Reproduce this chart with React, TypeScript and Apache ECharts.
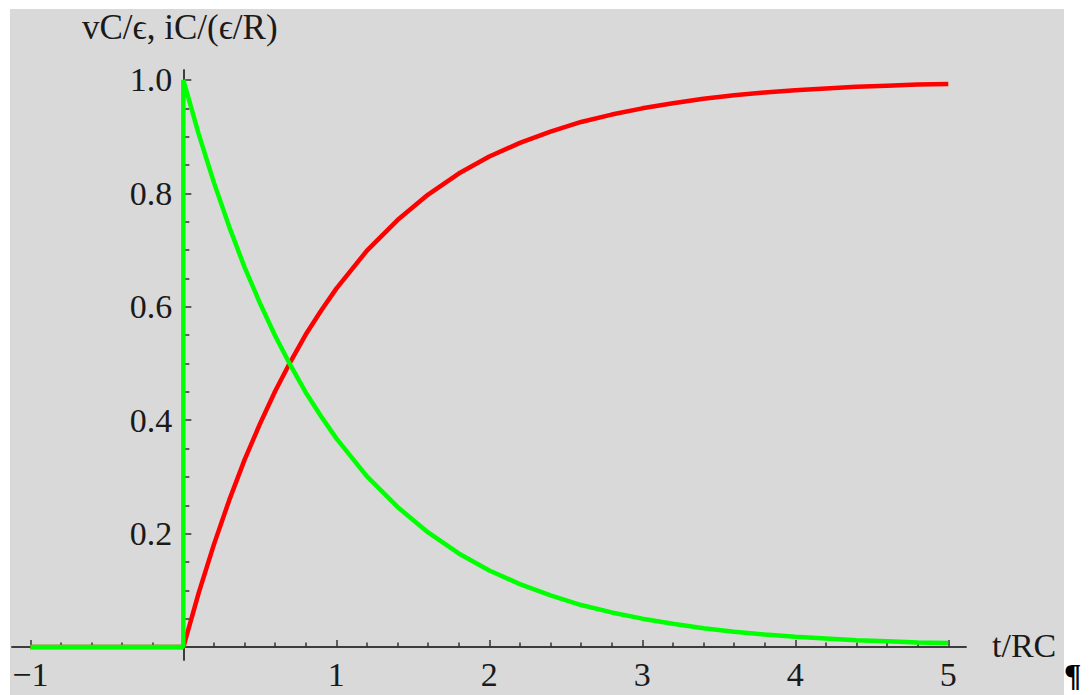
import React, { useEffect, useRef } from "react";
import * as echarts from "echarts";

// t/RC sample points
const tValues = [
  -1, 0, 0.1, 0.2, 0.3, 0.4, 0.5, 0.6, 0.7, 0.8, 0.9, 1.0,
  1.2, 1.4, 1.6, 1.8, 2.0, 2.2, 2.4, 2.6, 2.8, 3.0, 3.2, 3.4, 3.6, 3.8,
  4.0, 4.2, 4.4, 4.6, 4.8, 5.0,
];
// vC/ϵ (red)
const vcValues = [
  0, 0, 0.095, 0.181, 0.259, 0.33, 0.393, 0.451, 0.503, 0.551, 0.593, 0.632,
  0.699, 0.753, 0.798, 0.835, 0.865, 0.889, 0.909, 0.926, 0.939, 0.95, 0.959,
  0.967, 0.973, 0.978, 0.982, 0.985, 0.988, 0.99, 0.992, 0.993,
];
// iC/(ϵ/R) (green) — jumps from 0 to 1 at t = 0
const icPre = [
  [-1, 0],
  [0, 0],
];
const icValues = [
  1.0, 0.905, 0.819, 0.741, 0.67, 0.607, 0.549, 0.497, 0.449, 0.407, 0.368,
  0.301, 0.247, 0.202, 0.165, 0.135, 0.111, 0.091, 0.074, 0.061, 0.05, 0.041,
  0.033, 0.027, 0.022, 0.018, 0.015, 0.012, 0.01, 0.008, 0.007,
];

const xMajorTicks = [-1, 1, 2, 3, 4, 5];
const xMinorTicks = [
  -0.8, -0.6, -0.4, -0.2, 0.2, 0.4, 0.6, 0.8, 1.2, 1.4, 1.6, 1.8, 2.2, 2.4,
  2.6, 2.8, 3.2, 3.4, 3.6, 3.8, 4.2, 4.4, 4.6, 4.8,
];
const yMajorTicks = [0.2, 0.4, 0.6, 0.8, 1.0];
const yMinorTicks = [
  0.05, 0.1, 0.15, 0.25, 0.3, 0.35, 0.45, 0.5, 0.55, 0.65, 0.7, 0.75, 0.85,
  0.9, 0.95,
];

const yTitle = "vC/ϵ, iC/(ϵ/R)";
const xTitle = "t/RC";

const FONT = "'Liberation Serif', 'Times New Roman', serif";
const AXIS_COLOR = "#333";

export default function App() {
  const ref = useRef<HTMLDivElement>(null);

  useEffect(() => {
    if (!ref.current) return;
    const chart = echarts.init(ref.current, undefined, { renderer: "svg" });

    const vcData = tValues.map((t, i) => [t, vcValues[i]]);
    const icData = [
      ...icPre,
      ...tValues.slice(1).map((t, i) => [t, icValues[i]]),
    ];

    const xMin = -1.12;
    const xMax = 5.116;
    const yMin = -0.0229;
    const yMax = 1.0176;
    const gLeft = 12;
    const gTop = 70;
    const gW = 954;
    const gH = 590;
    // shift the axes inward so they cross at the origin
    const yAxisOffset = -((0 - xMin) / (xMax - xMin)) * gW;
    const xAxisOffset = -((0 - yMin) / (yMax - yMin)) * gH;

    const baseX = {
      type: "value",
      min: xMin,
      max: xMax,
      position: "bottom",
      offset: xAxisOffset,
      splitLine: { show: false },
      axisLine: { onZero: false, lineStyle: { color: AXIS_COLOR, width: 1.5 } },
    };
    const baseY = {
      type: "value",
      min: yMin,
      max: yMax,
      position: "left",
      offset: yAxisOffset,
      splitLine: { show: false },
      axisLine: { onZero: false, lineStyle: { color: AXIS_COLOR, width: 1.5 } },
    };

    chart.setOption({
      animation: false,
      textStyle: { fontFamily: FONT },
      grid: {
        left: gLeft,
        top: gTop,
        width: gW,
        height: gH,
        containLabel: false,
        outerBoundsMode: "none",
      },
      xAxis: [
        {
          ...baseX,
          axisTick: {
            show: true,
            inside: true,
            length: 7,
            customValues: xMajorTicks,
            lineStyle: { color: AXIS_COLOR, width: 1.5 },
          },
          axisLabel: {
            show: true,
            customValues: xMajorTicks,
            margin: 27,
            verticalAlign: "middle",
            fontFamily: FONT,
            fontSize: 34,
            color: "#1a1a1a",
            formatter: (v: number) => (v < 0 ? "\u2212" + Math.abs(v) : String(v)),
          },
        },
        {
          ...baseX,
          axisTick: {
            show: true,
            inside: true,
            length: 4.5,
            customValues: xMinorTicks,
            lineStyle: { color: AXIS_COLOR, width: 1.5 },
          },
          axisLabel: { show: false },
        },
      ],
      yAxis: [
        {
          ...baseY,
          axisTick: {
            show: true,
            inside: true,
            length: 8,
            customValues: yMajorTicks,
            lineStyle: { color: AXIS_COLOR, width: 1.5 },
          },
          axisLabel: {
            show: true,
            customValues: yMajorTicks,
            margin: 11,
            fontFamily: FONT,
            fontSize: 34,
            color: "#1a1a1a",
            formatter: (v: number) => v.toFixed(1),
          },
        },
        {
          ...baseY,
          axisTick: {
            show: true,
            inside: true,
            length: 6,
            customValues: yMinorTicks,
            lineStyle: { color: AXIS_COLOR, width: 1.5 },
          },
          axisLabel: { show: false },
        },
      ],
      graphic: [
        {
          type: "rect",
          z: -10,
          silent: true,
          shape: { x: 10, y: 9, width: 1054, height: 690 },
          style: { fill: "#d9d9d9" },
        },
        {
          type: "text",
          x: 82,
          y: 27,
          style: {
            text: yTitle,
            font: `35px ${FONT}`,
            fill: "#1a1a1a",
            align: "left",
            verticalAlign: "middle",
          },
        },
        {
          type: "text",
          x: 992,
          y: 645,
          style: {
            text: xTitle,
            font: `34px ${FONT}`,
            fill: "#1a1a1a",
            align: "left",
            verticalAlign: "middle",
          },
        },
        {
          type: "text",
          x: 1064,
          y: 675,
          style: {
            text: "¶",
            font: `bold 32px ${FONT}`,
            fill: "#000",
            align: "left",
            verticalAlign: "middle",
          },
        },
      ],
      series: [
        {
          type: "line",
          data: vcData,
          showSymbol: false,
          symbol: "none",
          lineStyle: { color: "#ff0000", width: 4.5 },
          z: 3,
        },
        {
          type: "line",
          data: icData,
          showSymbol: false,
          symbol: "none",
          lineStyle: { color: "#00ff00", width: 4.5 },
          z: 4,
        },
      ],
    });

    return () => chart.dispose();
  }, []);

  return (
    <div
      ref={ref}
      style={{
        position: "absolute",
        left: 0,
        top: 0,
        width: 1089,
        height: 695,
        background: "#ffffff",
      }}
    />
  );
}
